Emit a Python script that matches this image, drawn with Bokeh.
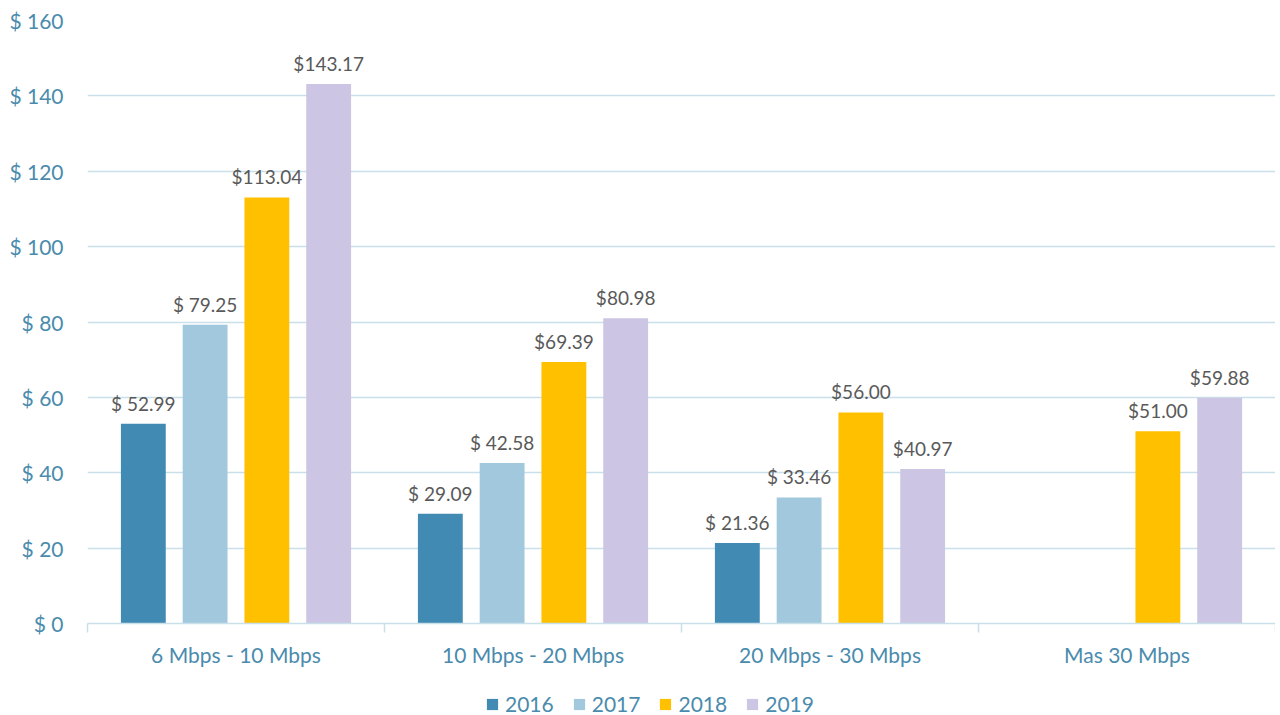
import math
from bokeh.plotting import figure
from bokeh.layouts import column
from bokeh.models import (ColumnDataSource, FixedTicker, PrintfTickFormatter,
                          Legend, LegendItem, Range1d)
from bokeh.core.properties import value
from bokeh.transform import dodge
from bokeh.embed import file_html
from bokeh.resources import INLINE

categories = ["6 Mbps - 10 Mbps", "10 Mbps - 20 Mbps", "20 Mbps - 30 Mbps", "Mas 30 Mbps"]
years = ["2016", "2017", "2018", "2019"]
nan = float("nan")
v2016 = [52.99, 29.09, 21.36, nan]
v2017 = [79.25, 42.58, 33.46, nan]
v2018 = [113.04, 69.39, 56.00, 51.00]
v2019 = [143.17, 80.98, 40.97, 59.88]
l2016 = ["$ 52.99", "$ 29.09", "$ 21.36", ""]
l2017 = ["$ 79.25", "$ 42.58", "$ 33.46", ""]
l2018 = ["$113.04", "$69.39", "$56.00", "$51.00"]
l2019 = ["$143.17", "$80.98", "$40.97", "$59.88"]
y_ticks = [0, 20, 40, 60, 80, 100, 120, 140, 160]

colors = ["#418AB3", "#A2C8DE", "#FFC000", "#CDC5E4"]
offsets = [-0.312, -0.104, 0.104, 0.312]
FONT = "Lato"
AXIS_COLOR = "#4A8BAD"
GRID_COLOR = "#C9DFEA"

src = ColumnDataSource(dict(
    xc=[i + 0.5 for i in range(len(categories))],
    v2016=v2016, v2017=v2017, v2018=v2018, v2019=v2019,
    l2016=l2016, l2017=l2017, l2018=l2018, l2019=l2019,
))

p = figure(frame_width=1188, frame_height=603, output_backend="svg",
           toolbar_location=None, x_range=Range1d(0, len(categories)),
           y_range=Range1d(0, 160),
           min_border_left=87, min_border_top=20, min_border_right=0,
           min_border_bottom=49)
p.outline_line_color = None
p.background_fill_color = "white"
p.border_fill_color = "white"

for yr, off, col in zip(years, offsets, colors):
    p.vbar(x=dodge("xc", off, range=p.x_range), top="v" + yr, width=0.151,
           source=src, fill_color=col, line_color=None)
    p.text(x=dodge("xc", off, range=p.x_range), y="v" + yr, text="l" + yr,
           source=src, text_align="center", text_baseline="bottom",
           y_offset=-9, text_font=value(FONT), text_font_size="19px",
           text_color="#595959")

# y axis
p.yaxis.ticker = FixedTicker(ticks=y_ticks)
p.yaxis.formatter = PrintfTickFormatter(format="$ %d")
p.yaxis.axis_line_color = None
p.yaxis.major_tick_line_color = None
p.yaxis.minor_tick_line_color = None
p.yaxis.major_label_standoff = 18
p.yaxis.major_label_text_font = FONT
p.yaxis.major_label_text_font_size = "21px"
p.yaxis.major_label_text_color = AXIS_COLOR

p.ygrid.grid_line_color = GRID_COLOR
p.ygrid.grid_line_width = 1.5
p.xgrid.grid_line_color = None

# x axis: labels at category centres, tick marks at boundaries
p.xaxis.ticker = FixedTicker(ticks=[i + 0.5 for i in range(len(categories))],
                             minor_ticks=list(range(len(categories) + 1)))
p.xaxis.major_label_overrides = {i + 0.5: c for i, c in enumerate(categories)}
p.xaxis.axis_line_color = GRID_COLOR
p.xaxis.axis_line_width = 1.5
p.xaxis.major_tick_line_color = None
p.xaxis.major_tick_out = 0
p.xaxis.major_tick_in = 0
p.xaxis.minor_tick_line_color = GRID_COLOR
p.xaxis.minor_tick_line_width = 1.5
p.xaxis.minor_tick_out = 9
p.xaxis.minor_tick_in = 0
p.xaxis.major_label_standoff = 9
p.xaxis.major_label_text_font = FONT
p.xaxis.major_label_text_font_size = "21px"
p.xaxis.major_label_text_color = AXIS_COLOR

# legend in its own strip below the chart (its zero-width bars lie out of view)
lg = figure(width=1275, height=44, output_backend="svg", toolbar_location=None,
            x_axis_type=None, y_axis_type=None, x_range=Range1d(100, 101),
            y_range=Range1d(500, 501), min_border=0)
lg.outline_line_color = None
lg.grid.visible = False
items = []
for yr, col in zip(years, colors):
    r = lg.vbar(x="xc", top="v" + yr, width=0, source=src,
                fill_color=col, line_color=None)
    items.append(LegendItem(label=yr, renderers=[r]))
legend = Legend(items=items, orientation="horizontal", location=(398, 0),
                label_text_font=FONT, label_text_font_size="21px",
                label_text_color=AXIS_COLOR, glyph_width=14, glyph_height=14,
                label_standoff=6, spacing=18, padding=0, margin=0,
                border_line_color=None, background_fill_alpha=0)
lg.add_layout(legend, "center")

layout = column(p, lg, spacing=0)
open("out.html", "w").write(file_html(layout, INLINE))
